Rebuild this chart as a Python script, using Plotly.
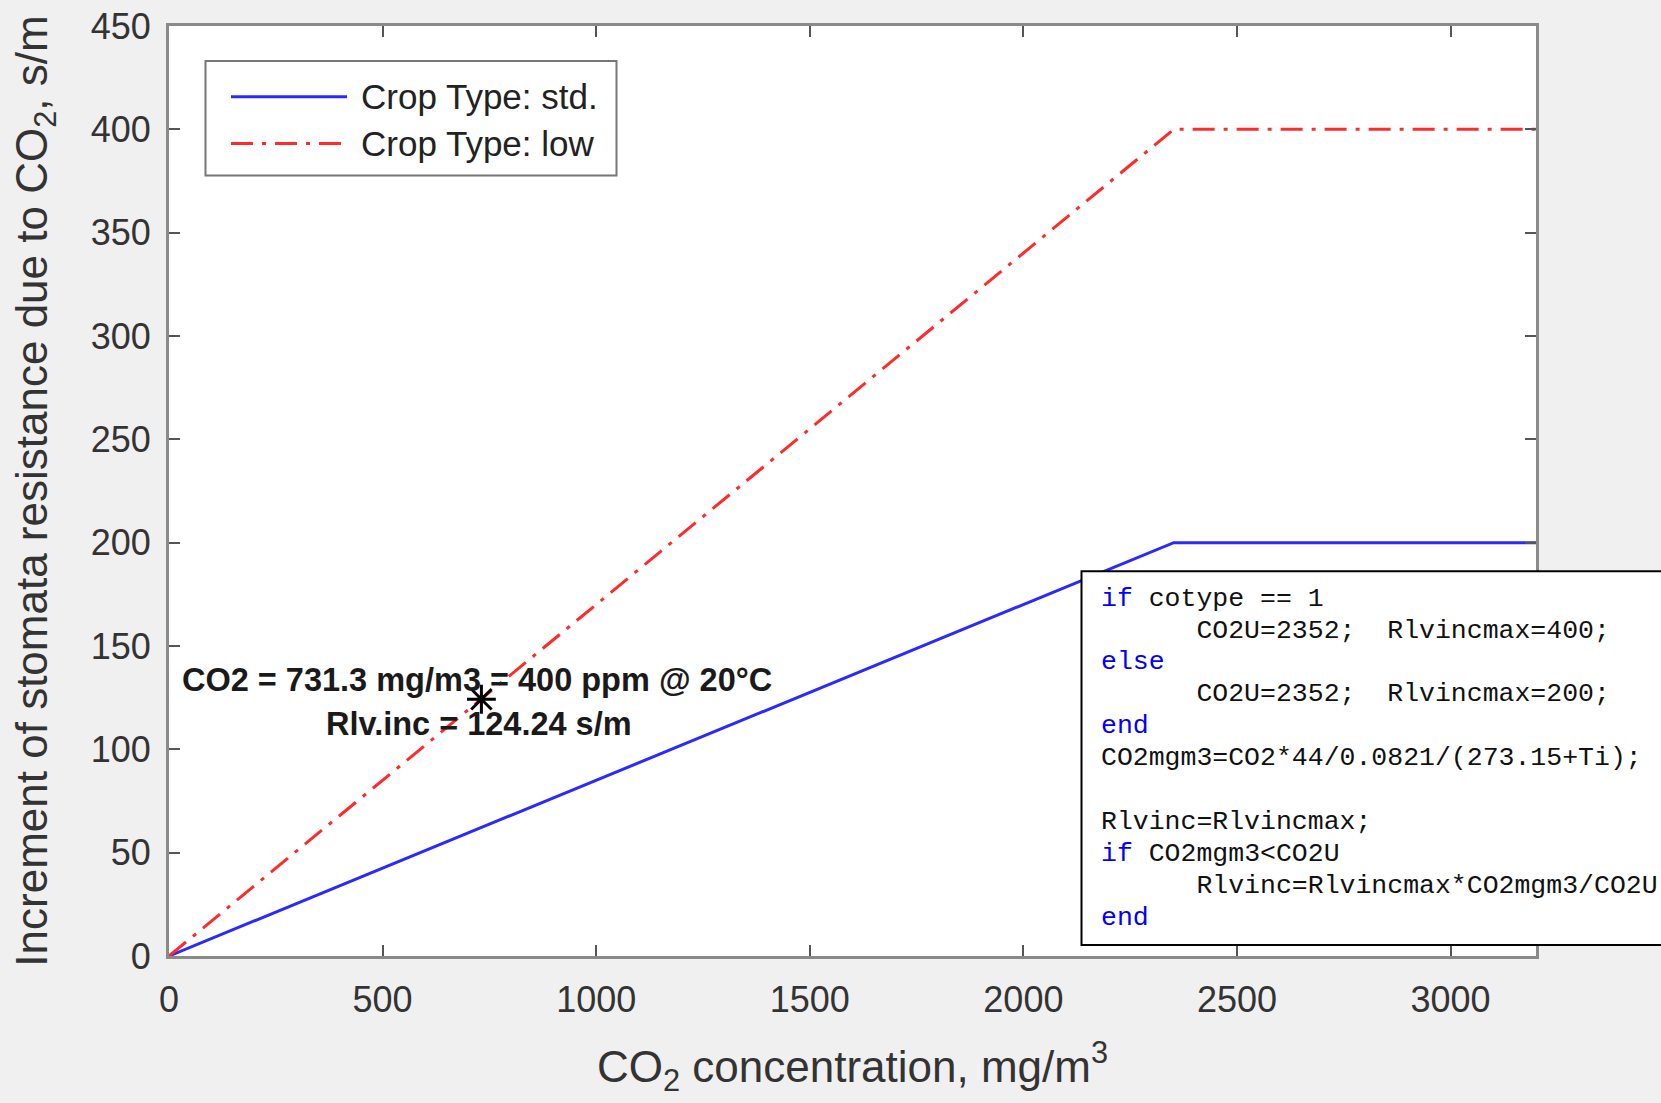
import plotly.graph_objects as go

# ---- data ----
co2_points = [0, 2352, 3200]          # mg/m3
std_values = [0, 200, 200]            # s/m, crop type std.
low_values = [0, 400, 400]            # s/m, crop type low
marker_x = [731.3]
marker_y = [124.24]
x_ticks = [0, 500, 1000, 1500, 2000, 2500, 3000]
y_ticks = [0, 50, 100, 150, 200, 250, 300, 350, 400, 450]
series_names = ["Crop Type: std.", "Crop Type: low"]
note_lines = ["<b>CO2 = 731.3 mg/m3 = 400 ppm @ 20°C</b>", "<b>Rlv.inc = 124.24 s/m</b>"]
code_lines = [
    '<span style="color:#0000ff">if</span> cotype == 1',
    '\u00a0\u00a0\u00a0\u00a0\u00a0\u00a0CO2U=2352;\u00a0\u00a0Rlvincmax=400;',
    '<span style="color:#0000ff">else</span>',
    '\u00a0\u00a0\u00a0\u00a0\u00a0\u00a0CO2U=2352;\u00a0\u00a0Rlvincmax=200;',
    '<span style="color:#0000ff">end</span>',
    'CO2mgm3=CO2*44/0.0821/(273.15+Ti);',
    '',
    'Rlvinc=Rlvincmax;',
    '<span style="color:#0000ff">if</span> CO2mgm3&lt;CO2U',
    '\u00a0\u00a0\u00a0\u00a0\u00a0\u00a0Rlvinc=Rlvincmax*CO2mgm3/CO2U',
    '<span style="color:#0000ff">end</span>',
]

W, H = 1661, 1103
ML, MR, MT, MB = 169, 125, 25.5, 147
plot_w = W - ML - MR
plot_h = H - MT - MB


def px(xp):
    return (xp - ML) / plot_w


def py(yp):
    return 1 - (yp - MT) / plot_h


BLUE = "#2a2aff"
RED = "#ff2a2a"
RED_DASH = "22px,9px,4px,9px"

fig = go.Figure()
fig.add_trace(go.Scatter(x=co2_points, y=std_values, mode="lines",
                         name=series_names[0], showlegend=False,
                         line=dict(color=BLUE, width=3)))
fig.add_trace(go.Scatter(x=co2_points, y=low_values, mode="lines",
                         name=series_names[1], showlegend=False,
                         line=dict(color=RED, width=3, dash=RED_DASH)))
fig.add_trace(go.Scatter(x=marker_x, y=marker_y, mode="markers", showlegend=False,
                         marker=dict(symbol="asterisk-open", size=24, color="black",
                                     line=dict(color="black", width=3))))

txt_color = "#333333"
tick_font = dict(family="Liberation Sans, Arial", size=36, color=txt_color)
axis_common = dict(showgrid=False, zeroline=False, ticks="inside", ticklen=11,
                   tickwidth=2, tickcolor="#555555", showline=True,
                   linecolor="#8a8a8a", linewidth=3, mirror="ticks",
                   tickfont=tick_font)

fig.update_xaxes(range=[0, 3200], tickvals=x_ticks,
                 ticktext=[str(v) for v in x_ticks], ticklabelstandoff=10,
                 title=dict(text="CO<sub>2</sub> concentration, mg/m<sup>3</sup>",
                            font=dict(family="Liberation Sans, Arial", size=44, color=txt_color),
                            standoff=32),
                 **axis_common)
fig.update_yaxes(range=[0, 450], tickvals=y_ticks,
                 ticktext=[str(v) for v in y_ticks], ticklabelstandoff=8,
                 title=dict(text="Increment of stomata resistance due to CO<sub>2</sub>, s/m",
                            font=dict(family="Liberation Sans, Arial", size=44, color=txt_color),
                            standoff=30),
                 **axis_common)

shapes = []
annotations = []

# legend (box, line samples, labels)
shapes.append(dict(type="rect", xref="paper", yref="paper",
                   x0=px(205.5), x1=px(616.5), y0=py(60.5), y1=py(175),
                   fillcolor="white", line=dict(color="#777777", width=2), layer="above"))
legend_rows = [96.4, 143.0]
legend_styles = [dict(color=BLUE, width=3), dict(color=RED, width=3, dash=RED_DASH)]
for name, yrow, style in zip(series_names, legend_rows, legend_styles):
    shapes.append(dict(type="line", xref="paper", yref="paper",
                       x0=px(231), x1=px(347), y0=py(yrow), y1=py(yrow),
                       line=style, layer="above"))
    annotations.append(dict(x=px(359), y=py(yrow), xref="paper", yref="paper",
                            xanchor="left", yanchor="middle", showarrow=False,
                            text=name,
                            font=dict(family="Liberation Sans, Arial", size=35, color="#222222")))

# note near the marker
note_pos = [(721, 133.5), (726, 112.5)]
for t, (nx, ny) in zip(note_lines, note_pos):
    annotations.append(dict(x=nx, y=ny, xref="x", yref="y", showarrow=False, text=t,
                            font=dict(family="Liberation Sans, Arial", size=32.5, color="#1a1a1a")))

# code box
shapes.append(dict(type="rect", xref="paper", yref="paper",
                   x0=px(1081.5), x1=px(1700), y0=py(571), y1=py(945),
                   fillcolor="white", line=dict(color="black", width=2), layer="above"))
for i, line in enumerate(code_lines):
    if not line:
        continue
    annotations.append(dict(x=px(1099), y=py(598.5 + 31.9 * i), xref="paper", yref="paper",
                            xanchor="left", yanchor="middle", showarrow=False, align="left",
                            text=line,
                            font=dict(family="Liberation Mono, Courier New, monospace",
                                      size=26.5, color="#111111")))

fig.update_layout(
    width=W, height=H,
    margin=dict(l=ML, r=MR, t=MT, b=MB, autoexpand=False),
    paper_bgcolor="#f0f0f0", plot_bgcolor="white",
    showlegend=False,
    shapes=shapes,
    annotations=annotations,
)

fig.write_html("out.html")
